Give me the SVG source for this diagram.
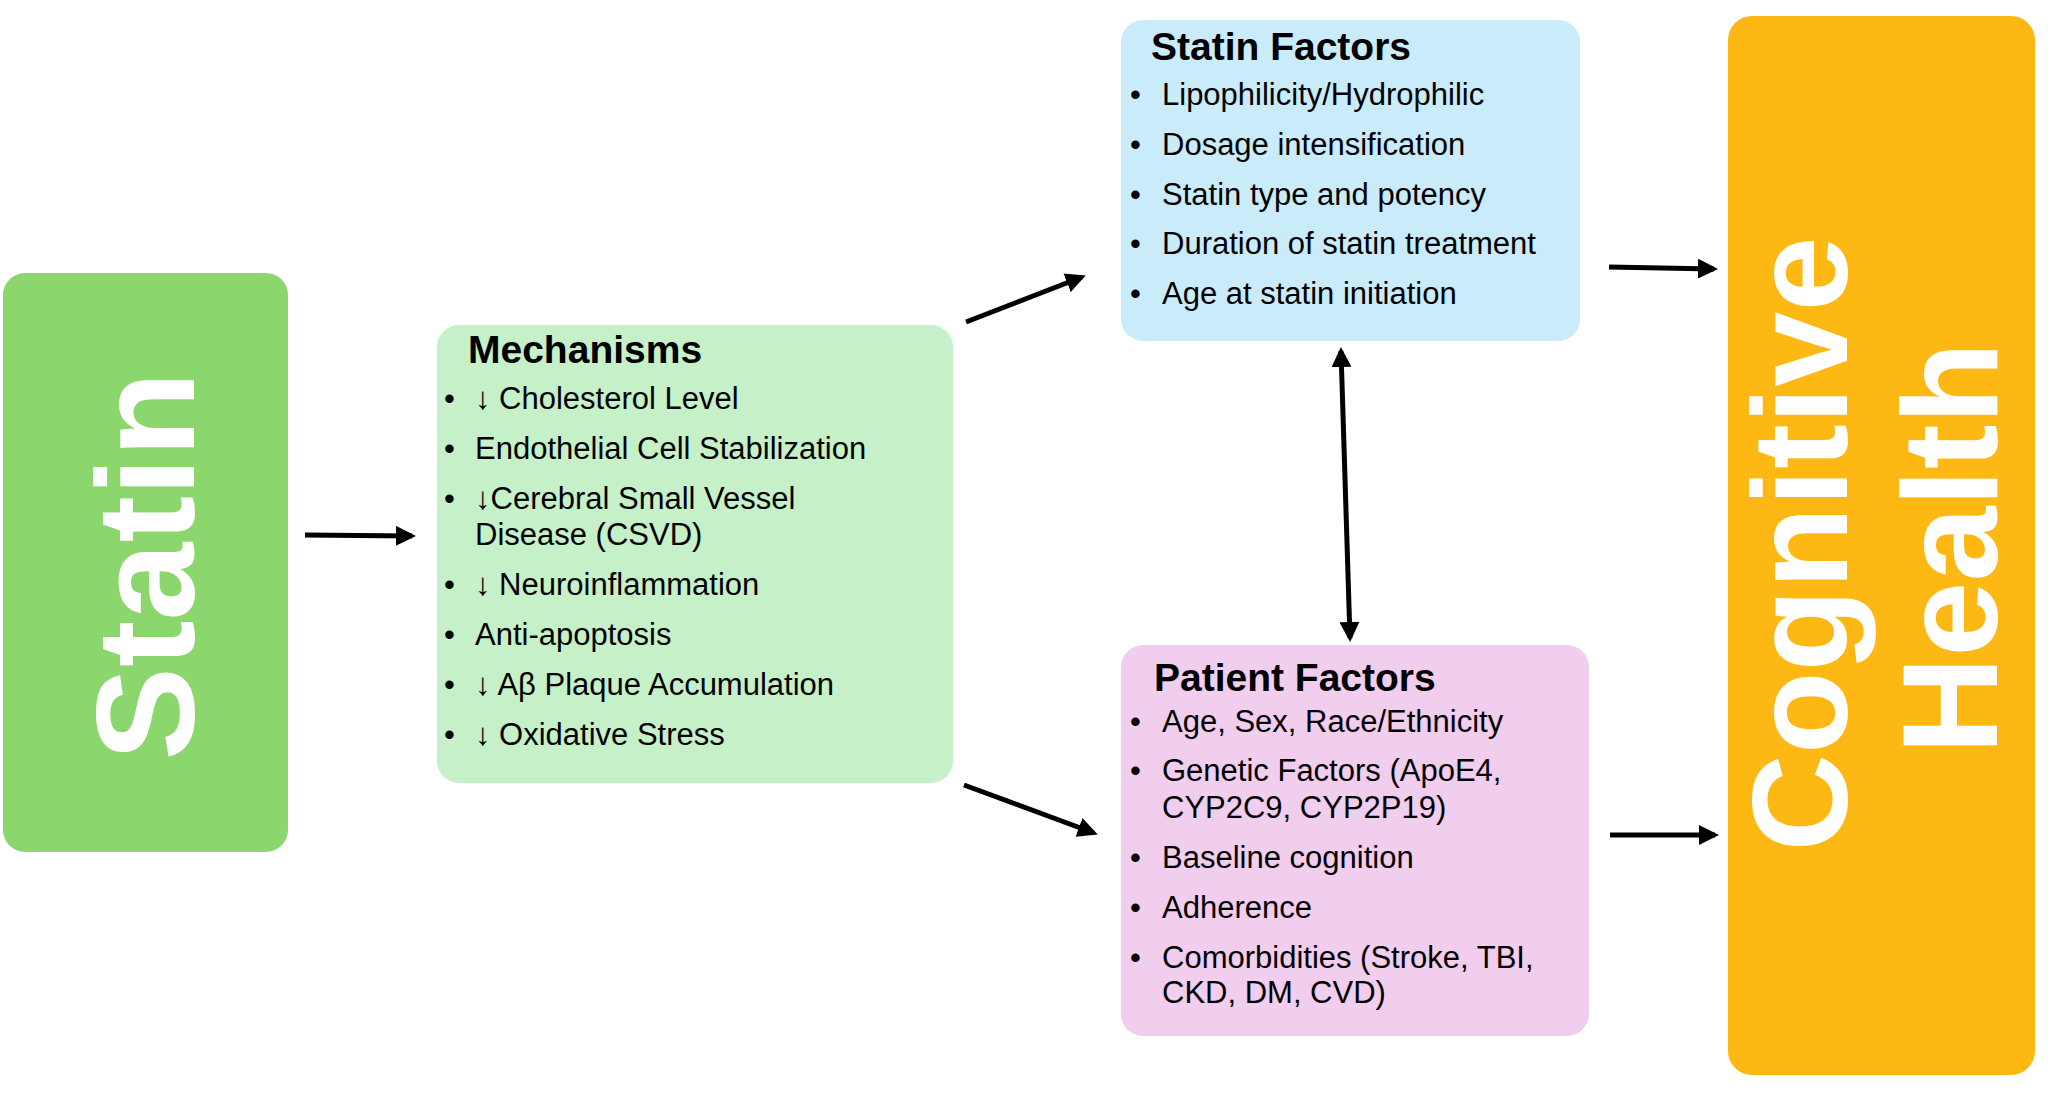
<svg xmlns="http://www.w3.org/2000/svg" width="2056" height="1116" viewBox="0 0 2056 1116">
<style>
.t{font-family:"Liberation Sans",Arial,sans-serif;font-size:31px;fill:#000}
.h{font-family:"Liberation Sans",Arial,sans-serif;font-size:39px;font-weight:bold;fill:#000}
.big{font-family:"Liberation Sans",Arial,sans-serif;font-weight:bold;fill:#fff;text-anchor:middle}
.c{stroke:#000;stroke-width:5;fill:none}
</style>
<defs>
<marker id="a" viewBox="0 0 10 10" refX="8" refY="5" markerWidth="4" markerHeight="4" orient="auto-start-reverse"><path d="M0,0L10,5L0,10z" fill="#000"/></marker>
</defs>
<rect width="2056" height="1116" fill="#fff"/>
<g id="statin"><rect x="3" y="273" width="285" height="579" rx="22" fill="#8cd66e"/>
<text class="big" font-size="140" transform="translate(194,566) rotate(-90)">Statin</text></g>
<g id="mechanisms"><rect x="437" y="325" width="516" height="458" rx="22" fill="#c6f1c8"/>
<text class="h" x="468" y="363">Mechanisms</text>
<g class="t">
<text x="444" y="409">•</text><text x="475" y="409">↓ Cholesterol Level</text>
<text x="444" y="459">•</text><text x="475" y="459">Endothelial Cell Stabilization</text>
<text x="444" y="509">•</text><text x="475" y="509">↓Cerebral Small Vessel</text>
<text x="475" y="545">Disease (CSVD)</text>
<text x="444" y="595">•</text><text x="475" y="595">↓ Neuroinflammation</text>
<text x="444" y="645">•</text><text x="475" y="645">Anti-apoptosis</text>
<text x="444" y="695">•</text><text x="475" y="695">↓ Aβ Plaque Accumulation</text>
<text x="444" y="745">•</text><text x="475" y="745">↓ Oxidative Stress</text>
</g></g>
<g id="statin-factors"><rect x="1121" y="20" width="459" height="321" rx="22" fill="#c9ebfa"/>
<text class="h" x="1151" y="60">Statin Factors</text>
<g class="t">
<text x="1130" y="105">•</text><text x="1162" y="105">Lipophilicity/Hydrophilic</text>
<text x="1130" y="155">•</text><text x="1162" y="155">Dosage intensification</text>
<text x="1130" y="205">•</text><text x="1162" y="205">Statin type and potency</text>
<text x="1130" y="254">•</text><text x="1162" y="254">Duration of statin treatment</text>
<text x="1130" y="304">•</text><text x="1162" y="304">Age at statin initiation</text>
</g></g>
<g id="patient-factors"><rect x="1121" y="645" width="468" height="391" rx="22" fill="#f1cdee"/>
<text class="h" x="1154" y="691">Patient Factors</text>
<g class="t">
<text x="1130" y="732">•</text><text x="1162" y="732">Age, Sex, Race/Ethnicity</text>
<text x="1130" y="781">•</text><text x="1162" y="781">Genetic Factors (ApoE4,</text>
<text x="1162" y="818">CYP2C9, CYP2P19)</text>
<text x="1130" y="868">•</text><text x="1162" y="868">Baseline cognition</text>
<text x="1130" y="918">•</text><text x="1162" y="918">Adherence</text>
<text x="1130" y="968">•</text><text x="1162" y="968">Comorbidities (Stroke, TBI,</text>
<text x="1162" y="1003">CKD, DM, CVD)</text>
</g></g>
<g id="cognitive-health"><rect x="1728" y="16" width="307" height="1059" rx="24" fill="#fdb813"/>
<text class="big" font-size="135" transform="translate(1847,544) rotate(-90)">Cognitive</text>
<text class="big" font-size="135" transform="translate(1997,548) rotate(-90)">Health</text></g>
<g id="connectors">
<line class="c" x1="305" y1="535" x2="412" y2="536" marker-end="url(#a)"/>
<line class="c" x1="966" y1="322" x2="1082" y2="277" marker-end="url(#a)"/>
<line class="c" x1="964" y1="785" x2="1094" y2="833" marker-end="url(#a)"/>
<line class="c" x1="1341" y1="351" x2="1350" y2="638" marker-start="url(#a)" marker-end="url(#a)"/>
<line class="c" x1="1609" y1="267" x2="1714" y2="269" marker-end="url(#a)"/>
<line class="c" x1="1610" y1="835" x2="1715" y2="835" marker-end="url(#a)"/>
</g>
</svg>
